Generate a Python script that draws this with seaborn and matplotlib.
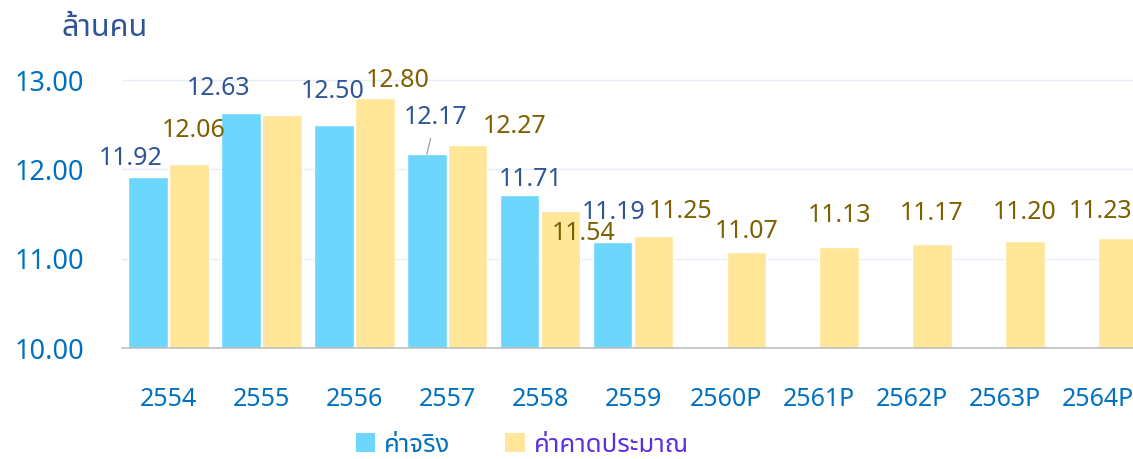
import matplotlib
matplotlib.use("Agg")
import numpy as np
import pandas as pd
import seaborn as sns
import matplotlib.pyplot as plt
from matplotlib.patches import Patch

# data
years = ["2554", "2555", "2556", "2557", "2558", "2559",
         "2560P", "2561P", "2562P", "2563P", "2564P"]
actual = [11.92, 12.63, 12.50, 12.17, 11.71, 11.19,
          np.nan, np.nan, np.nan, np.nan, np.nan]
forecast = [12.06, 12.61, 12.80, 12.27, 11.54, 11.25,
            11.07, 11.13, 11.17, 11.20, 11.23]
series_names = ["ค่าจริง", "ค่าคาดประมาณ"]
y_ticks = [10.0, 11.0, 12.0, 13.0]

# label offsets in pixels (dx, dy); None = no label
actual_offsets = [(-17, 18), (-22, 25), (-1, 33), (9, 37), (11, 16), (1, 29)]
forecast_offsets = [(5, 34), None, (23, 18), (47, 19), (23, -23), (27, 25),
                    (0, 21), (0, 32), (0, 30), (0, 28), (-17, 27)]

df = pd.DataFrame({
    "year": years * 2,
    "value": actual + forecast,
    "series": [series_names[0]] * len(years) + [series_names[1]] * len(years),
})

blue = "#6DD6FD"
yellow = "#FFE699"
blue_txt = "#2F5597"
yellow_txt = "#7F6000"
tick_col = "#0070C0"

sns.set_style("white")
plt.rcParams["font.family"] = ["Noto Sans Thai", "DejaVu Sans"]

fig = plt.figure(figsize=(11.33, 4.59), dpi=100)
ax = fig.add_axes([0.1077, 0.2418, 0.902, 0.603])

sns.barplot(data=df, x="year", y="value", hue="series", order=years,
            hue_order=series_names, palette=[blue, yellow], width=0.88,
            gap=0.03, saturation=1, legend=False, ax=ax, zorder=2)

ax.set_ylim(10, 13.1)
ax.set_xlim(-0.5, len(years) - 0.5)
ax.set_yticks(y_ticks)
ax.set_yticklabels(["%.2f" % v for v in y_ticks])
ax.yaxis.grid(True, color="#E8EEF7", linewidth=1, zorder=0)
ax.set_axisbelow(True)
for s in ["top", "right", "left"]:
    ax.spines[s].set_visible(False)
ax.spines["bottom"].set_color("#BFBFBF")
ax.spines["bottom"].set_linewidth(1.2)
ax.tick_params(axis="y", length=0, labelsize=19.5, labelcolor=tick_col, pad=27)
ax.tick_params(axis="x", length=0, labelsize=18, labelcolor=tick_col, pad=28)
ax.set_xlabel("")
ax.set_ylabel("")

# value labels
for cont, vals, offs, col in [(ax.containers[0], actual, actual_offsets, blue_txt),
                              (ax.containers[1], forecast, forecast_offsets, yellow_txt)]:
    bars = [b for b in cont if not np.isnan(b.get_height())]
    v = [x for x in vals if not np.isnan(x)]
    for bar, val, off in zip(bars, v, offs):
        if off is None:
            continue
        cx = bar.get_x() + bar.get_width() / 2
        kw = {}
        if val == 12.17:
            kw["arrowprops"] = dict(arrowstyle="-", color="#A6A6A6", lw=1,
                                    shrinkA=4, shrinkB=0)
        ax.annotate("%.2f" % val, xy=(cx, val), xytext=off,
                    textcoords="offset pixels", ha="center", va="center",
                    fontsize=18, color=col, annotation_clip=False, **kw)

fig.text(0.054, 0.94, "ล้านคน", fontsize=22, color=blue_txt, ha="left", va="center")

handles = [Patch(facecolor=blue, edgecolor="none"),
           Patch(facecolor=yellow, edgecolor="none")]
leg = fig.legend(handles, series_names, loc="center", bbox_to_anchor=(0.461, 0.03),
                 ncol=2, frameon=False, fontsize=18.5, handlelength=0.75,
                 handleheight=0.75, handletextpad=0.35, columnspacing=2.15)
leg.get_texts()[0].set_color(tick_col)
leg.get_texts()[1].set_color("#5B2FE0")

fig.savefig("out.png", dpi=100)
